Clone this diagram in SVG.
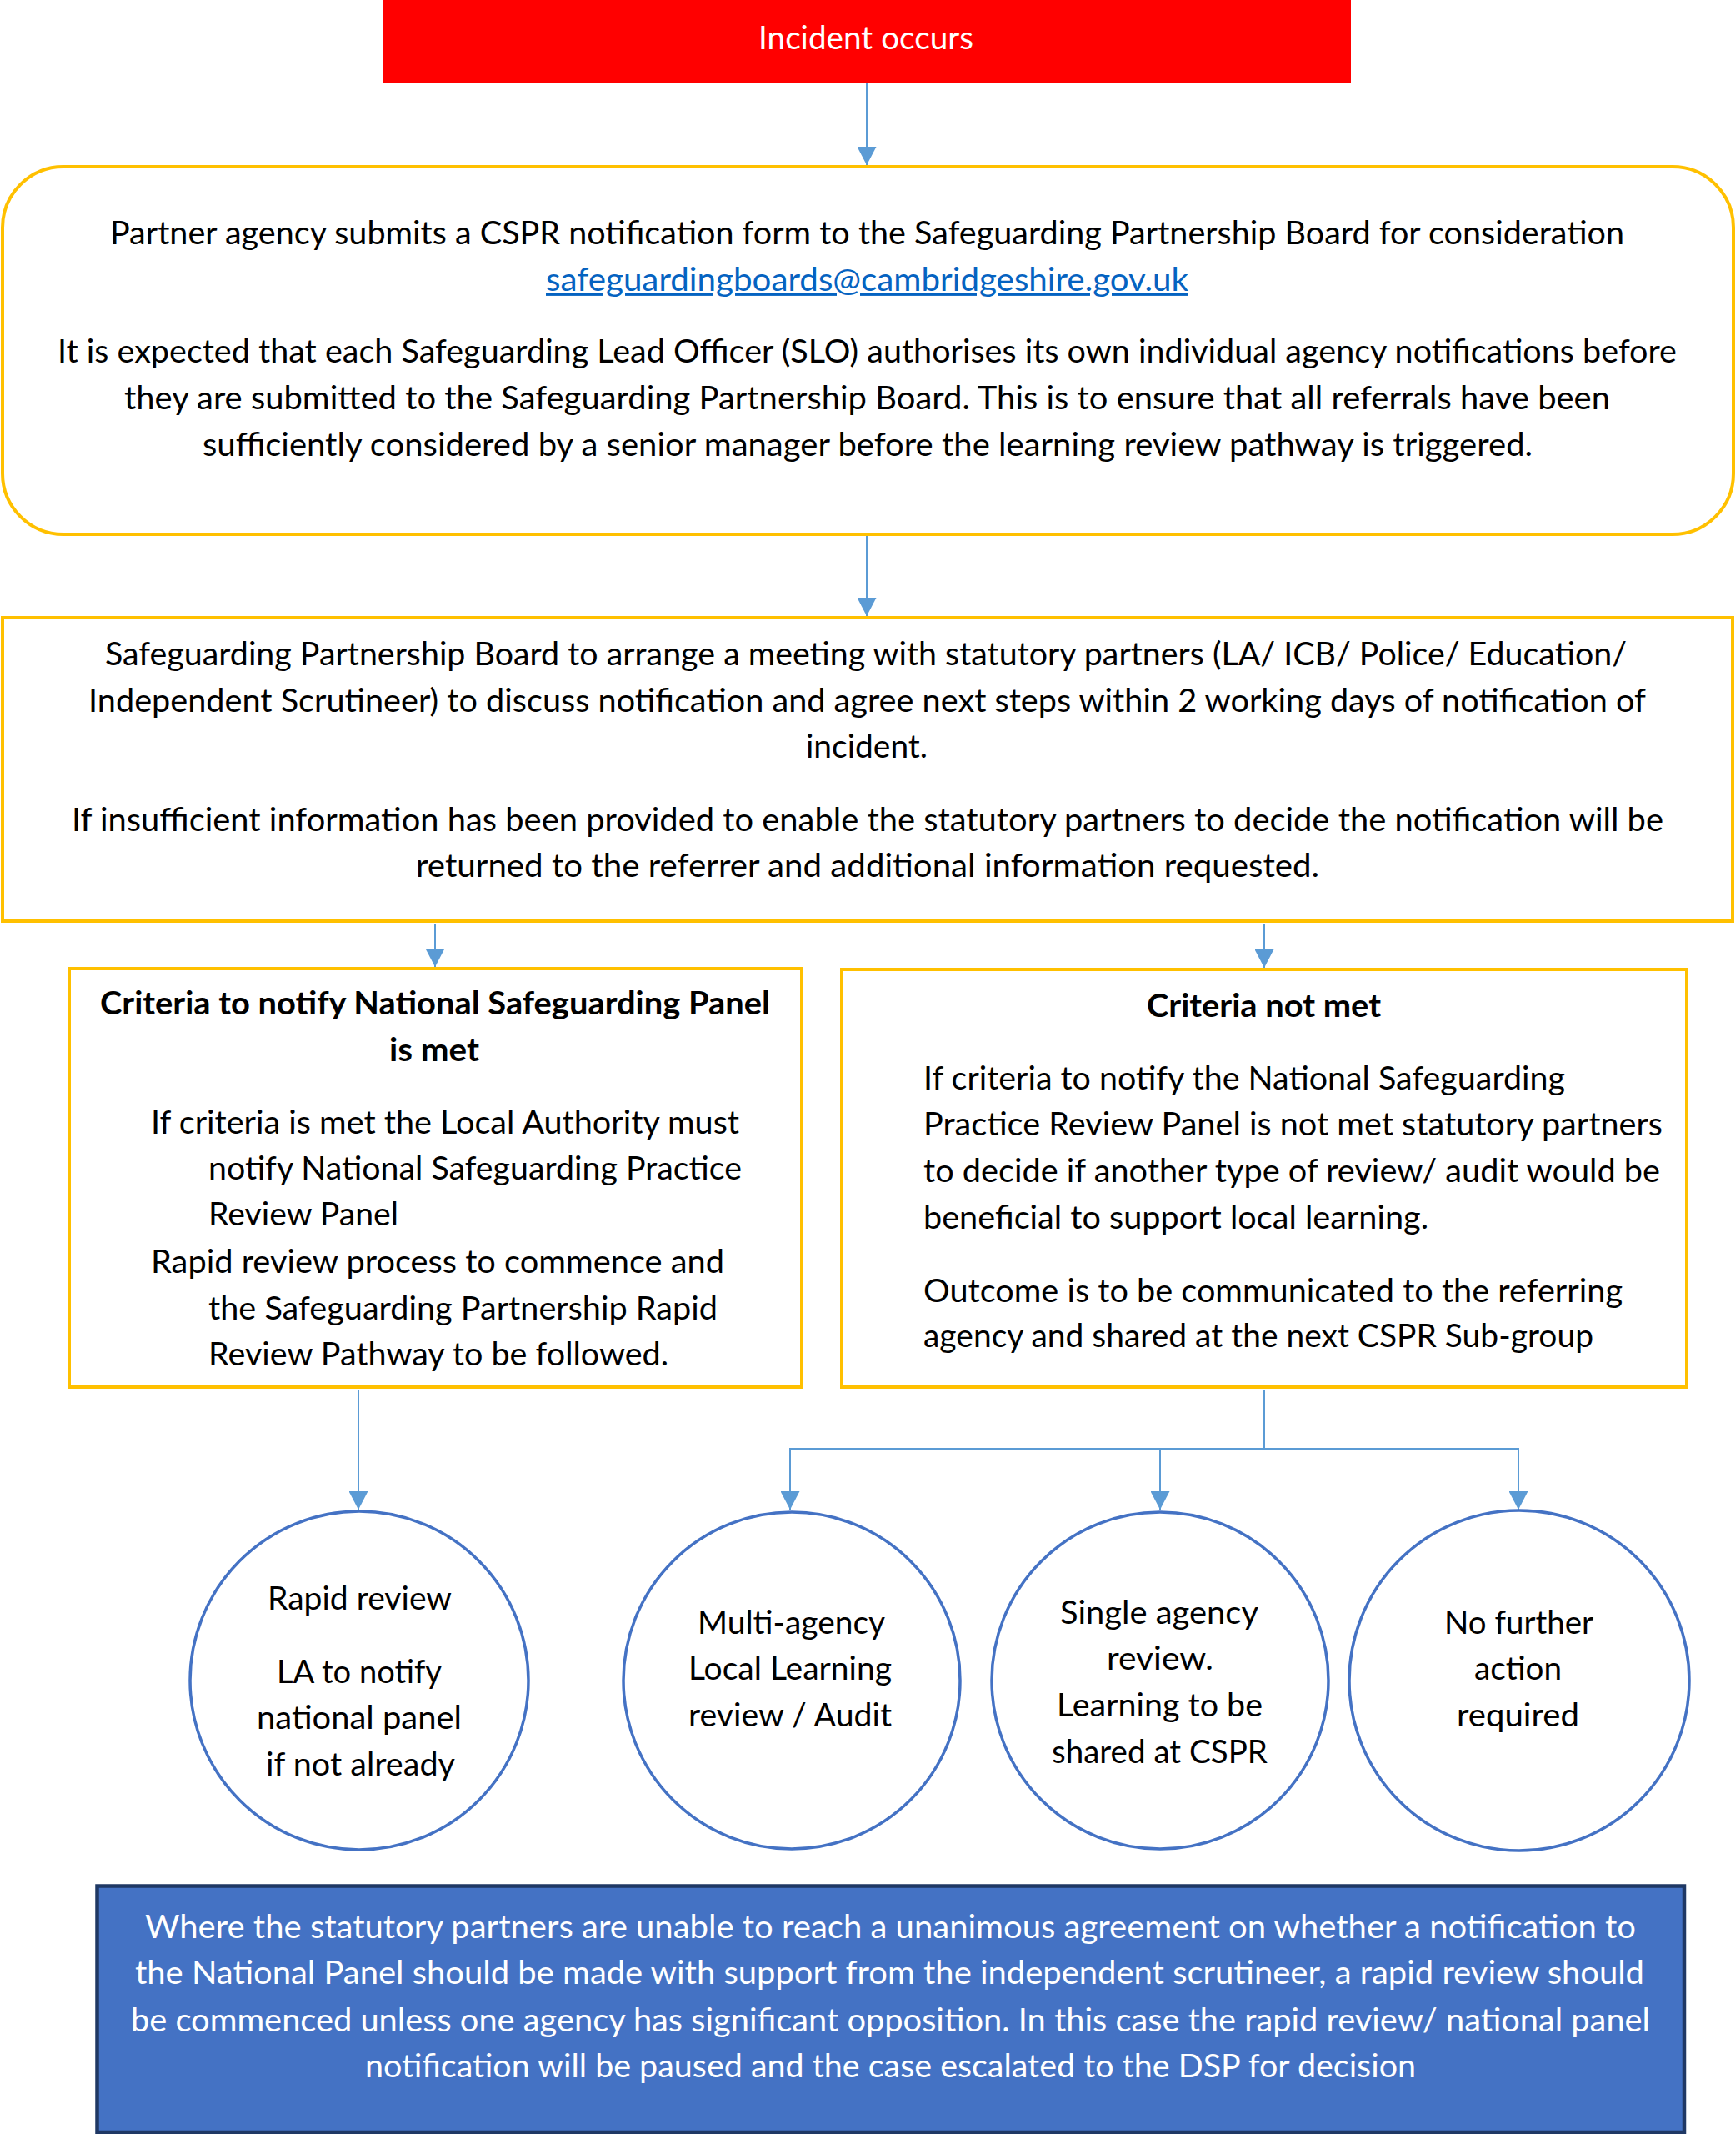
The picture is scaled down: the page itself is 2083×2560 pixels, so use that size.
<svg xmlns="http://www.w3.org/2000/svg" width="2083" height="2560" viewBox="0 0 2083 2560">
<defs>
<style>
text{font-family:Lato,"Liberation Sans",sans-serif;font-size:39px;fill:#000}
.c{text-anchor:middle}
.b{font-weight:bold}
.w{fill:#fff}
.link{fill:#0563C1;text-decoration:underline}
.box{fill:#fff;stroke:#FFC000;stroke-width:4}
.circ{fill:#fff;stroke:#4472C4;stroke-width:3.5}
.conn{fill:none;stroke:#5B9BD5;stroke-width:2}
</style>
<marker id="ah" viewBox="0 0 22 23" refX="22" refY="11.5" markerWidth="22" markerHeight="23" markerUnits="userSpaceOnUse" orient="auto">
<path d="M0,0 L22,11.5 L0,23 z" fill="#5B9BD5"/>
</marker>
</defs>
<rect width="2083" height="2560" fill="#fff"/>

<g id="connectors">
<path class="conn" d="M1040,99 V198" marker-end="url(#ah)"/>
<path class="conn" d="M1040,643 V739" marker-end="url(#ah)"/>
<path class="conn" d="M522,1108 V1160" marker-end="url(#ah)"/>
<path class="conn" d="M1517,1108 V1161" marker-end="url(#ah)"/>
<path class="conn" d="M430,1667 V1811" marker-end="url(#ah)"/>
<path class="conn" d="M1517,1667 V1738 H948 V1811" marker-end="url(#ah)"/>
<path class="conn" d="M1392,1738 V1811" marker-end="url(#ah)"/>
<path class="conn" d="M1517,1738 H1822 V1811" marker-end="url(#ah)"/>
</g>

<g id="incident">
<rect x="459" y="0" width="1162" height="99" fill="#FF0000"/>
<text class="c w" x="1039" y="59" textLength="258" lengthAdjust="spacingAndGlyphs">Incident occurs</text>
</g>

<g id="notification">
<rect class="box" x="3" y="200" width="2077" height="441" rx="73" ry="73"/>
<text class="c" x="1040.5" y="293" textLength="1817" lengthAdjust="spacingAndGlyphs">Partner agency submits a CSPR notification form to the Safeguarding Partnership Board for consideration</text>
<text class="c link" x="1040.5" y="349" textLength="771" lengthAdjust="spacingAndGlyphs">safeguardingboards@cambridgeshire.gov.uk</text>
<text class="c" x="1040.5" y="435" textLength="1943" lengthAdjust="spacingAndGlyphs">It is expected that each Safeguarding Lead Officer (SLO) authorises its own individual agency notifications before</text>
<text class="c" x="1040.5" y="491" textLength="1783" lengthAdjust="spacingAndGlyphs">they are submitted to the Safeguarding Partnership Board. This is to ensure that all referrals have been</text>
<text class="c" x="1041" y="547" textLength="1596" lengthAdjust="spacingAndGlyphs">sufficiently considered by a senior manager before the learning review pathway is triggered.</text>
</g>

<g id="meeting">
<rect class="box" x="3" y="741" width="2076" height="364"/>
<text class="c" x="1039" y="798" textLength="1826" lengthAdjust="spacingAndGlyphs">Safeguarding Partnership Board to arrange a meeting with statutory partners (LA/ ICB/ Police/ Education/</text>
<text class="c" x="1040.5" y="854" textLength="1869" lengthAdjust="spacingAndGlyphs">Independent Scrutineer) to discuss notification and agree next steps within 2 working days of notification of</text>
<text class="c" x="1040" y="909" textLength="146" lengthAdjust="spacingAndGlyphs">incident.</text>
<text class="c" x="1041" y="997" textLength="1910" lengthAdjust="spacingAndGlyphs">If insufficient information has been provided to enable the statutory partners to decide the notification will be</text>
<text class="c" x="1041" y="1052" textLength="1084" lengthAdjust="spacingAndGlyphs">returned to the referrer and additional information requested.</text>
</g>

<g id="criteria-met">
<rect class="box" x="83" y="1162" width="879" height="502"/>
<text class="c b" x="522" y="1217" textLength="804" lengthAdjust="spacingAndGlyphs">Criteria to notify National Safeguarding Panel</text>
<text class="c b" x="521" y="1273" textLength="108" lengthAdjust="spacingAndGlyphs">is met</text>
<text x="181" y="1360" textLength="706" lengthAdjust="spacingAndGlyphs">If criteria is met the Local Authority must</text>
<text x="250" y="1415" textLength="640" lengthAdjust="spacingAndGlyphs">notify National Safeguarding Practice</text>
<text x="250" y="1470" textLength="228" lengthAdjust="spacingAndGlyphs">Review Panel</text>
<text x="181" y="1527" textLength="688" lengthAdjust="spacingAndGlyphs">Rapid review process to commence and</text>
<text x="250" y="1583" textLength="611" lengthAdjust="spacingAndGlyphs">the Safeguarding Partnership Rapid</text>
<text x="250" y="1638" textLength="552" lengthAdjust="spacingAndGlyphs">Review Pathway to be followed.</text>
</g>

<g id="criteria-not-met">
<rect class="box" x="1010" y="1163" width="1014" height="501"/>
<text class="c b" x="1516.5" y="1220" textLength="281" lengthAdjust="spacingAndGlyphs">Criteria not met</text>
<text x="1108" y="1307" textLength="770" lengthAdjust="spacingAndGlyphs">If criteria to notify the National Safeguarding</text>
<text x="1108" y="1362" textLength="887" lengthAdjust="spacingAndGlyphs">Practice Review Panel is not met statutory partners</text>
<text x="1108" y="1418" textLength="884" lengthAdjust="spacingAndGlyphs">to decide if another type of review/ audit would be</text>
<text x="1108" y="1474" textLength="606" lengthAdjust="spacingAndGlyphs">beneficial to support local learning.</text>
<text x="1108" y="1562" textLength="839" lengthAdjust="spacingAndGlyphs">Outcome is to be communicated to the referring</text>
<text x="1108" y="1616" textLength="804" lengthAdjust="spacingAndGlyphs">agency and shared at the next CSPR Sub-group</text>
</g>

<g id="rapid-review">
<circle class="circ" cx="431" cy="2016" r="203"/>
<text class="c" x="431.5" y="1931" textLength="221" lengthAdjust="spacingAndGlyphs">Rapid review</text>
<text class="c" x="431" y="2019" textLength="198" lengthAdjust="spacingAndGlyphs">LA to notify</text>
<text class="c" x="431" y="2074" textLength="246" lengthAdjust="spacingAndGlyphs">national panel</text>
<text class="c" x="432.5" y="2130" textLength="227" lengthAdjust="spacingAndGlyphs">if not already</text>
</g>

<g id="multi-agency">
<circle class="circ" cx="950" cy="2016" r="202"/>
<text class="c" x="949.5" y="1960" textLength="225" lengthAdjust="spacingAndGlyphs">Multi-agency</text>
<text class="c" x="948" y="2015" textLength="244" lengthAdjust="spacingAndGlyphs">Local Learning</text>
<text class="c" x="948" y="2071" textLength="244" lengthAdjust="spacingAndGlyphs">review / Audit</text>
</g>

<g id="single-agency">
<circle class="circ" cx="1392" cy="2016" r="202"/>
<text class="c" x="1391" y="1948" textLength="238" lengthAdjust="spacingAndGlyphs">Single agency</text>
<text class="c" x="1392" y="2003" textLength="128" lengthAdjust="spacingAndGlyphs">review.</text>
<text class="c" x="1391.5" y="2059" textLength="247" lengthAdjust="spacingAndGlyphs">Learning to be</text>
<text class="c" x="1391.5" y="2115" textLength="259" lengthAdjust="spacingAndGlyphs">shared at CSPR</text>
</g>

<g id="no-further-action">
<circle class="circ" cx="1823" cy="2016" r="204"/>
<text class="c" x="1822.5" y="1960" textLength="179" lengthAdjust="spacingAndGlyphs">No further</text>
<text class="c" x="1821.5" y="2015" textLength="105" lengthAdjust="spacingAndGlyphs">action</text>
<text class="c" x="1821.5" y="2071" textLength="147" lengthAdjust="spacingAndGlyphs">required</text>
</g>

<g id="escalation">
<rect x="116.5" y="2262.5" width="1904.5" height="295.5" fill="#4472C4" stroke="#1F3864" stroke-width="4.5"/>
<text class="c w" x="1068.5" y="2325" textLength="1789" lengthAdjust="spacingAndGlyphs">Where the statutory partners are unable to reach a unanimous agreement on whether a notification to</text>
<text class="c w" x="1067.5" y="2380" textLength="1811" lengthAdjust="spacingAndGlyphs">the National Panel should be made with support from the independent scrutineer, a rapid review should</text>
<text class="c w" x="1068.5" y="2437" textLength="1823" lengthAdjust="spacingAndGlyphs">be commenced unless one agency has significant opposition. In this case the rapid review/ national panel</text>
<text class="c w" x="1068.5" y="2492" textLength="1261" lengthAdjust="spacingAndGlyphs">notification will be paused and the case escalated to the DSP for decision</text>
</g>
</svg>
